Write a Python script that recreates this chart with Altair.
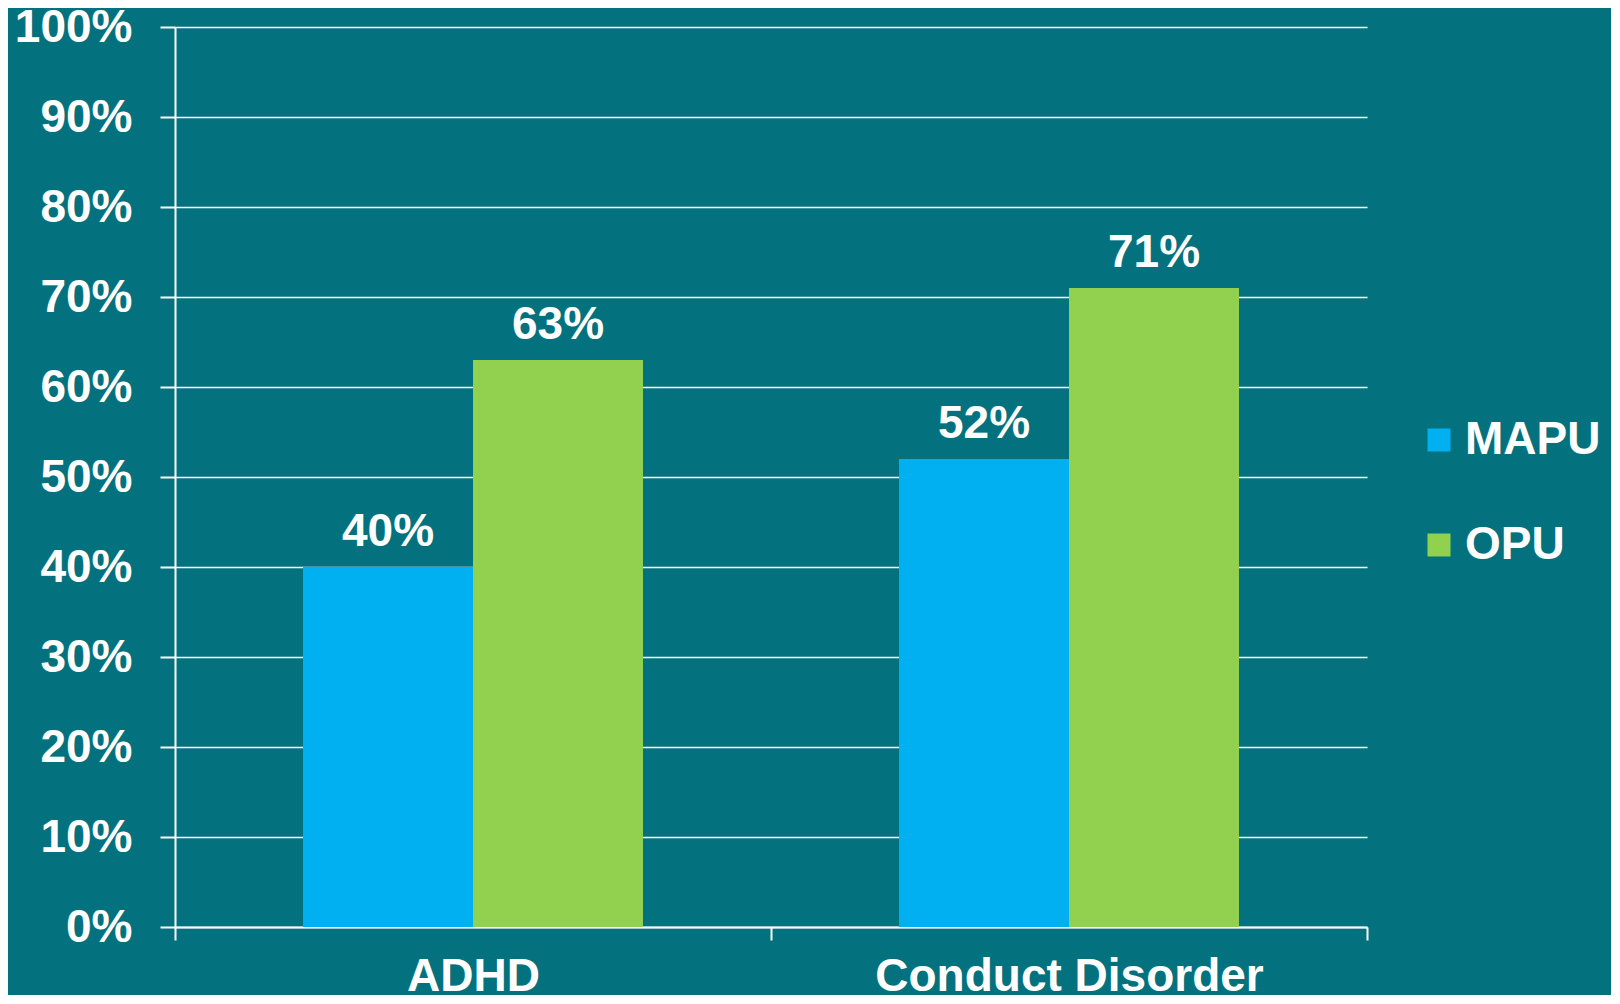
import altair as alt
import pandas as pd

categories = ["ADHD", "Conduct Disorder"]
series = ["MAPU", "OPU"]
mapu_values = [40, 52]
opu_values = [63, 71]
colors = ["#00B0F0", "#92D050"]
bg = "#03727E"
font = "Liberation Sans"

rows = []
for i, c in enumerate(categories):
    rows.append({"cat": c, "series": "MAPU", "value": mapu_values[i]})
    rows.append({"cat": c, "series": "OPU", "value": opu_values[i]})
df = pd.DataFrame(rows)
df["label"] = df["value"].astype(str) + "%"

x = alt.X("cat:N", sort=categories, title=None,
          scale=alt.Scale(paddingInner=0, paddingOuter=0),
          axis=alt.Axis(labelAngle=0, domainColor="white", domainWidth=2,
                        tickColor="white", tickWidth=2, tickSize=13, tickBand="extent",
                        labelColor="white", labelFont=font, labelFontSize=46,
                        labelFontWeight="bold", labelPadding=14, labelBaseline="top",
                        labelLimit=0))
xo = alt.XOffset("series:N", sort=series,
                 scale=alt.Scale(paddingOuter=0.753, paddingInner=0))
y = alt.Y("value:Q", title=None,
          scale=alt.Scale(domain=[0, 100], nice=False),
          axis=alt.Axis(values=list(range(0, 101, 10)), labelExpr="datum.value + '%'",
                        domainColor="white", domainWidth=2,
                        tickColor="white", tickWidth=2, tickSize=15,
                        gridColor="white", gridWidth=1.5,
                        labelColor="white", labelFont=font, labelFontSize=46,
                        labelFontWeight="bold", labelPadding=28))

bars = alt.Chart(df).mark_bar().encode(
    x=x, xOffset=xo, y=y,
    color=alt.Color("series:N", sort=series, title=None,
                    scale=alt.Scale(domain=series, range=colors),
                    legend=alt.Legend(orient="none", legendX=1241, legendY=390,
                                      symbolType="square", symbolSize=529,
                                      symbolStrokeWidth=0, labelFont=font,
                                      labelFontSize=46, labelFontWeight="bold",
                                      labelColor="white", labelOffset=3,
                                      labelLimit=0,
                                      rowPadding=59, padding=0)),
)

texts = alt.Chart(df).mark_text(baseline="alphabetic", dy=-21, font=font,
                                fontSize=46, fontWeight="bold", color="white").encode(
    x=x, xOffset=xo, y=y, text="label:N")

chart = alt.layer(bars, texts).properties(
    width=1192, height=900,
    padding={"left": 167, "top": 19, "right": 244, "bottom": 68},
    autosize=alt.AutoSizeParams(type="none"),
    background=bg,
).configure_view(stroke=None).configure_axis(grid=True).configure_axisX(grid=False)

chart.save("out.html", embed_options={"renderer": "svg", "actions": False})
